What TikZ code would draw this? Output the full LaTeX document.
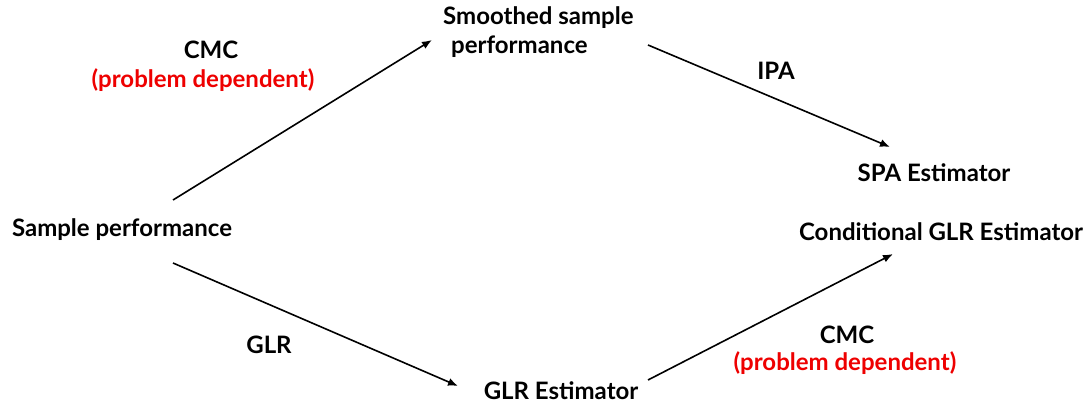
\documentclass[tikz,border=0pt]{standalone}
\usepackage{fontspec}
\setmainfont{Lato}
\usetikzlibrary{arrows.meta}
\definecolor{pdred}{RGB}{238,0,0}
\tikzset{
  lbl/.style={inner sep=0pt, font=\fontsize{24}{29}\selectfont\bfseries, text=black},
  red/.style={lbl, text=pdred},
  conn/.style={line width=1.6pt, -{Latex[length=10pt,width=8pt]}},
}
\begin{document}
\begin{tikzpicture}[x=1pt,y=-1pt]
\useasboundingbox (0,0) rectangle (1089,403);
\node[lbl] (sp) at (122,230) {Sample performance};
\node[lbl, align=left, anchor=west] (ss) at (443,32) {Smoothed sample\\\hspace*{8pt}performance};
\node[lbl] (spa) at (934,173) {SPA Estimator};
\node[lbl] (cglr) at (941,232) {Conditional GLR Estimator};
\node[lbl, anchor=base] (glr) at (561,399) {GLR Estimator};
\node[lbl] (cmc1) at (211,50) {CMC};
\node[red] (pd1) at (203,80) {(problem dependent)};
\node[lbl] (ipa) at (776,71) {IPA};
\node[lbl] (glrl) at (269,345) {GLR};
\node[lbl] (cmc2) at (847,335) {CMC};
\node[red] (pd2) at (845,363) {(problem dependent)};
\draw[conn] ([shift={(51,-30)}]sp.center) -- ([shift={(-11,8)}]ss.west);
\draw[conn] ([shift={(205,13)}]ss.west) -- ([shift={(-44,-26)}]spa.center);
\draw[conn] ([shift={(51,33)}]sp.center) -- ([shift={(-103,-13)}]glr.base);
\draw[conn] ([shift={(87,-19)}]glr.base) -- ([shift={(-48,22)}]cglr.center);
\end{tikzpicture}
\end{document}
